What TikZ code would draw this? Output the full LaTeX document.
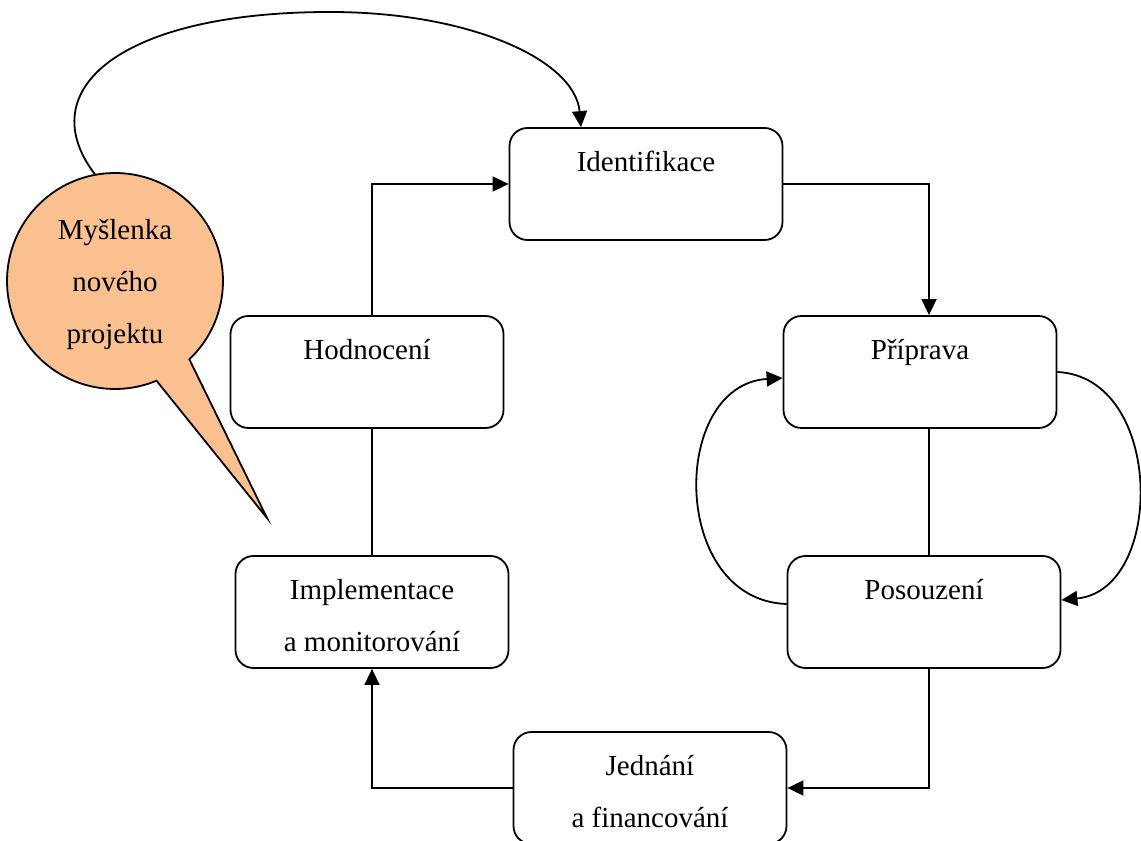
\documentclass[tikz,border=0pt]{standalone}
\usepackage{fontspec}
\setmainfont{Liberation Serif}
\usetikzlibrary{arrows.meta}
\definecolor{peach}{RGB}{250,192,144}
\newcommand\mybox[1]{\parbox[c][112pt][t]{273pt}{\centering\rule{0pt}{44pt}#1}}
\begin{document}
\begin{tikzpicture}[x=1pt,y=1pt,
  stage/.style={draw, line width=1.8pt, rounded corners=18pt, inner sep=0pt, font=\fontsize{29}{52}\selectfont},
  conn/.style={line width=1.8pt},
  arr/.style={conn, -{Triangle[length=16pt,width=15pt]}}]
\useasboundingbox (0,0) rectangle (1141,841);
\node[stage] (ident) at (646,657) {\mybox{Identifikace}};
\node[stage] (prip) at (920,469) {\mybox{Příprava}};
\node[stage] (pos) at (924,229) {\mybox{Posouzení}};
\node[stage] (jedn) at (650,53) {\mybox{Jednání\\a financování}};
\node[stage] (impl) at (372,229) {\mybox{Implementace\\a monitorování}};
\node[stage] (hodn) at (367,469) {\mybox{Hodnocení}};
% connectors
\draw[arr] (hodn.north -| impl.north) |- (ident.west);
\draw[arr] (ident.east) -| ([xshift=9pt]prip.north);
\draw[conn] ([xshift=9pt]prip.south) -- ([xshift=5pt]pos.north);
\draw[arr] ([xshift=5pt]pos.south) |- (jedn.east);
\draw[arr] (jedn.west) -| (impl.south);
\draw[conn] (impl.north) -- (impl.north |- hodn.south);
\draw[arr] (prip.east) .. controls +(107,-5) and +(104,10) .. ([yshift=12pt]pos.east);
\draw[arr] ([yshift=8pt]pos.west) .. controls +(-117,4) and +(-113,-7) .. ([yshift=-6pt]prip.west);
% speech bubble
\coordinate (bc) at (115,560);
\coordinate (tip) at (267,323);
\draw[line width=1.8pt, fill=peach] ([shift={(-46.5:108)}]bc) arc[start angle=-46.5, end angle=292.6, radius=108] -- (tip) -- cycle;
\node[font=\fontsize{29}{52}\selectfont, align=center] (idea) at (115,556) {Myšlenka\\nového\\projektu};
\draw[arr] ([shift={(100.5:108)}]bc) .. controls (30,751) and (120,829) .. (330,829) .. controls (470,829) and (575,781) .. ([xshift=-65pt]ident.north);
\end{tikzpicture}
\end{document}
